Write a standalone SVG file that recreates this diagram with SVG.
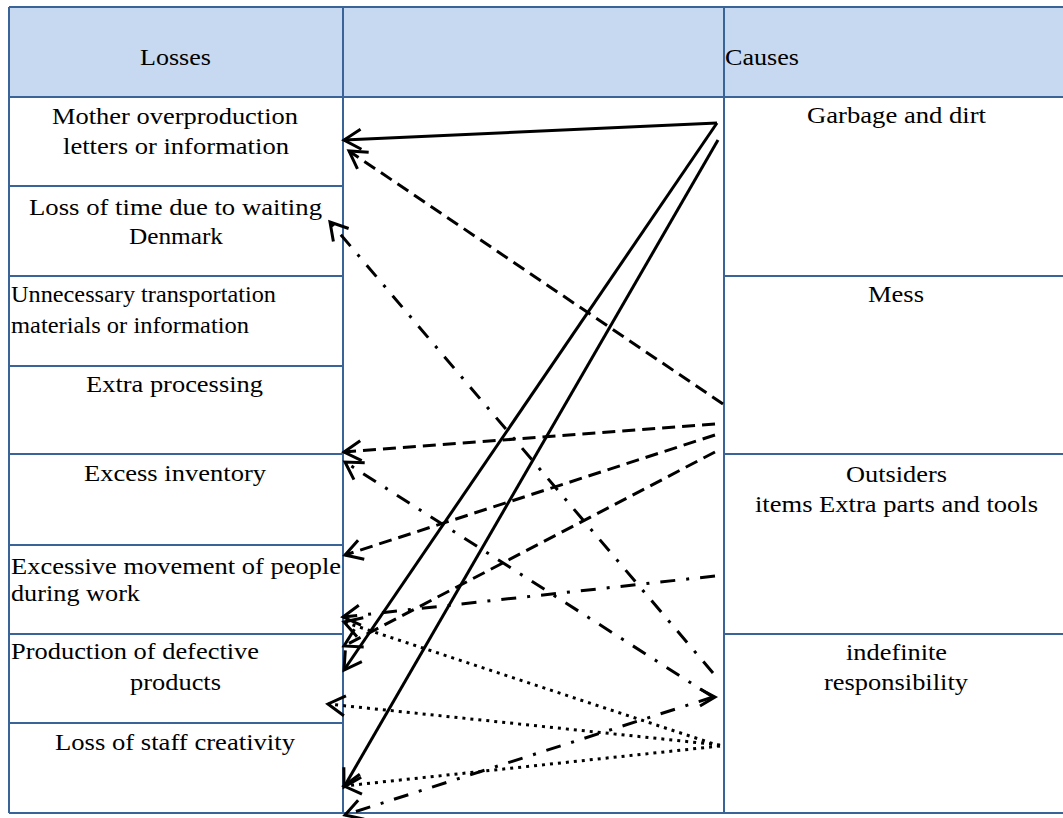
<svg xmlns="http://www.w3.org/2000/svg" width="1063" height="818" viewBox="0 0 1063 818">
<defs>
<style>
.hdr{fill:#C6D9F1;stroke:none}
.grid{stroke:#3A6497;stroke-width:2;fill:none}
.t{font-family:'Liberation Serif','Times New Roman',Times,serif;font-size:23px;fill:#000}
.c{fill:none;stroke:#000;stroke-width:3;marker-end:url(#ah)}
.dash{stroke-dasharray:13 7}
.dashdot{stroke-dasharray:15 11 3 11}
.dot{stroke-dasharray:3 5}
</style>
<marker id="ah" markerUnits="userSpaceOnUse" markerWidth="44" markerHeight="44" viewBox="-22 -22 44 44" refX="0" refY="0" orient="auto" overflow="visible">
<path d="M-17,-10 L0,0 L-17,10" fill="none" stroke="#000" stroke-width="3"/>
</marker>
</defs>
<rect x="0" y="0" width="1063" height="818" fill="#fff"/>
<rect class="hdr" x="9" y="7" width="1054" height="90"/>
<g id="table-grid" class="grid">
<line x1="9" y1="7" x2="1063" y2="7"/>
<line x1="9" y1="97" x2="1063" y2="97"/>
<line x1="9" y1="813" x2="1063" y2="813"/>
<line x1="9" y1="7" x2="9" y2="813"/>
<line x1="343" y1="7" x2="343" y2="813"/>
<line x1="724" y1="7" x2="724" y2="813"/>
<line x1="9" y1="186" x2="343" y2="186"/>
<line x1="9" y1="276" x2="343" y2="276"/>
<line x1="9" y1="366" x2="343" y2="366"/>
<line x1="9" y1="454" x2="343" y2="454"/>
<line x1="9" y1="545" x2="343" y2="545"/>
<line x1="9" y1="634" x2="343" y2="634"/>
<line x1="9" y1="723" x2="343" y2="723"/>
<line x1="724" y1="276" x2="1063" y2="276"/>
<line x1="724" y1="454" x2="1063" y2="454"/>
<line x1="724" y1="634" x2="1063" y2="634"/>
</g>
<g id="hdr-losses"><text class="t" x="140" y="65" textLength="71" lengthAdjust="spacingAndGlyphs">Losses</text></g>
<g id="hdr-causes"><text class="t" x="725" y="65" textLength="74" lengthAdjust="spacingAndGlyphs">Causes</text></g>
<g id="loss-overproduction">
<text class="t" x="52" y="124" textLength="246" lengthAdjust="spacingAndGlyphs">Mother overproduction</text>
<text class="t" x="63" y="154" textLength="226" lengthAdjust="spacingAndGlyphs">letters or information</text>
</g>
<g id="loss-waiting">
<text class="t" x="29" y="215" textLength="293" lengthAdjust="spacingAndGlyphs">Loss of time due to waiting</text>
<text class="t" x="129" y="244" textLength="94" lengthAdjust="spacingAndGlyphs">Denmark</text>
</g>
<g id="loss-transportation">
<text class="t" x="11" y="302" textLength="265" lengthAdjust="spacingAndGlyphs">Unnecessary transportation</text>
<text class="t" x="11" y="333" textLength="238" lengthAdjust="spacingAndGlyphs">materials or information</text>
</g>
<g id="loss-processing">
<text class="t" x="86" y="392" textLength="177" lengthAdjust="spacingAndGlyphs">Extra processing</text>
</g>
<g id="loss-inventory">
<text class="t" x="84" y="481" textLength="182" lengthAdjust="spacingAndGlyphs">Excess inventory</text>
</g>
<g id="loss-movement">
<text class="t" x="11" y="574" textLength="330" lengthAdjust="spacingAndGlyphs">Excessive movement of people</text>
<text class="t" x="11" y="601" textLength="129" lengthAdjust="spacingAndGlyphs">during work</text>
</g>
<g id="loss-defective">
<text class="t" x="11" y="659" textLength="248" lengthAdjust="spacingAndGlyphs">Production of defective</text>
<text class="t" x="130" y="690" textLength="91" lengthAdjust="spacingAndGlyphs">products</text>
</g>
<g id="loss-creativity">
<text class="t" x="55" y="750" textLength="240" lengthAdjust="spacingAndGlyphs">Loss of staff creativity</text>
</g>
<g id="cause-garbage">
<text class="t" x="807" y="123" textLength="179" lengthAdjust="spacingAndGlyphs">Garbage and dirt</text>
</g>
<g id="cause-mess">
<text class="t" x="868" y="302" textLength="56" lengthAdjust="spacingAndGlyphs">Mess</text>
</g>
<g id="cause-outsiders">
<text class="t" x="846" y="482" textLength="101" lengthAdjust="spacingAndGlyphs">Outsiders</text>
<text class="t" x="755" y="512" textLength="283" lengthAdjust="spacingAndGlyphs">items Extra parts and tools</text>
</g>
<g id="cause-responsibility">
<text class="t" x="846" y="660" textLength="101" lengthAdjust="spacingAndGlyphs">indefinite</text>
<text class="t" x="824" y="690" textLength="144" lengthAdjust="spacingAndGlyphs">responsibility</text>
</g>
<g id="connectors">
<line class="c" x1="717" y1="123" x2="344" y2="140"/>
<line class="c" x1="717" y1="123" x2="344" y2="670"/>
<line class="c" x1="718" y1="140" x2="344" y2="787"/>
<line class="c dash" x1="723" y1="404" x2="349" y2="151"/>
<line class="c dash" x1="715" y1="424" x2="344" y2="452"/>
<line class="c dash" x1="715" y1="435" x2="345" y2="555"/>
<line class="c dash" x1="715" y1="452" x2="344" y2="646"/>
<line class="c dashdot" x1="713" y1="673" x2="330" y2="222"/>
<line class="c dashdot" x1="713" y1="697" x2="345" y2="462"/>
<line class="c dashdot" x1="715" y1="576" x2="343" y2="617"/>
<line class="c dashdot" x1="713" y1="697" x2="345" y2="815"/>
<path d="M700,689 L715,697 L700,706" fill="none" stroke="#000" stroke-width="3"/>
<line class="c dot" x1="720" y1="746" x2="344" y2="622"/>
<line class="c dot" x1="720" y1="745" x2="328" y2="704"/>
<line class="c dot" x1="720" y1="746" x2="344" y2="786"/>
</g>
</svg>
